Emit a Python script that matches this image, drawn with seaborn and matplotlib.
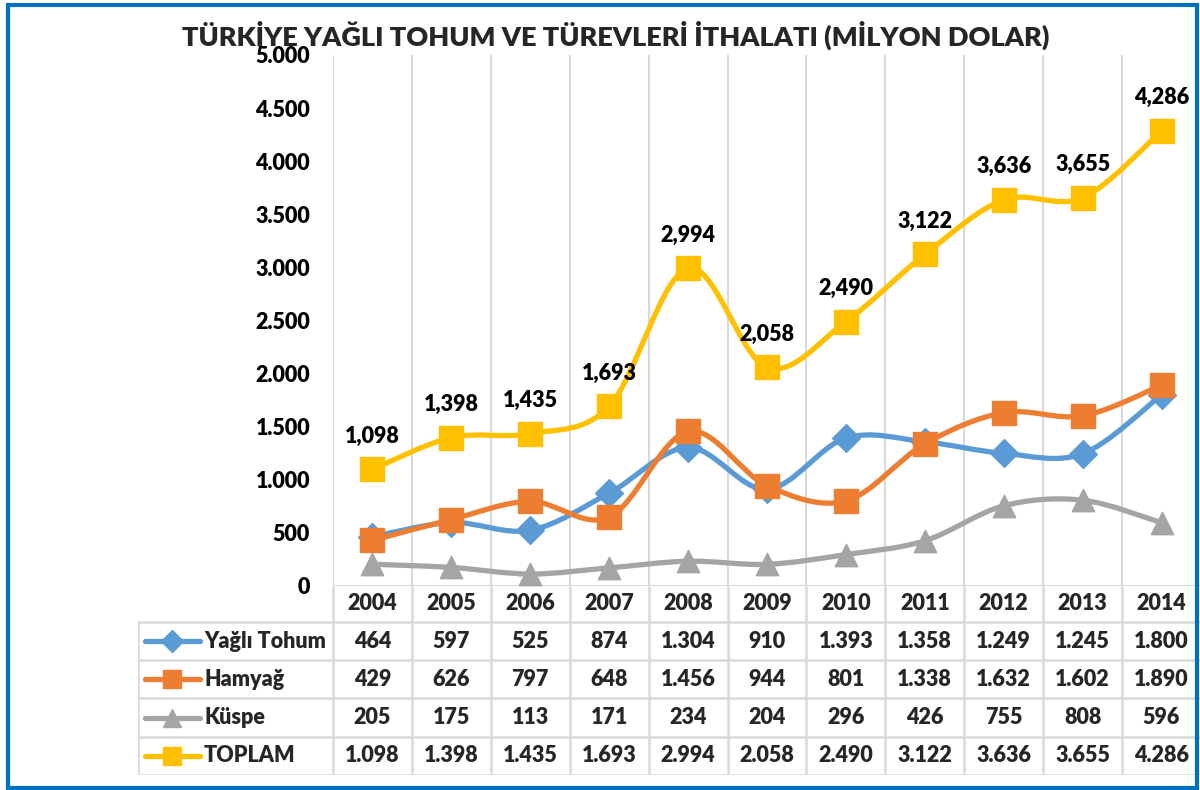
import numpy as np
import matplotlib
matplotlib.use("Agg")
import matplotlib.pyplot as plt
from matplotlib.path import Path
from matplotlib.patches import PathPatch, Rectangle
import seaborn as sns

sns.set_theme(style="white")
plt.rcParams["font.family"] = ["Lato", "DejaVu Sans"]
WEIGHT = "heavy"

# ── data ──
years = ["2004", "2005", "2006", "2007", "2008", "2009", "2010",
         "2011", "2012", "2013", "2014"]
yagli_tohum = [464, 597, 525, 874, 1304, 910, 1393, 1358, 1249, 1245, 1800]
hamyag = [429, 626, 797, 648, 1456, 944, 801, 1338, 1632, 1602, 1890]
kuspe = [205, 175, 113, 171, 234, 204, 296, 426, 755, 808, 596]
toplam = [1098, 1398, 1435, 1693, 2994, 2058, 2490, 3122, 3636, 3655, 4286]
series_names = ["Yağlı Tohum", "Hamyağ", "Küspe", "TOPLAM"]
y_ticks = [0, 500, 1000, 1500, 2000, 2500, 3000, 3500, 4000, 4500, 5000]
title = "TÜRKİYE YAĞLI TOHUM VE TÜREVLERİ İTHALATI (MİLYON DOLAR)"

COLORS = ["#5B9BD5", "#ED7D31", "#A5A5A5", "#FFC000"]
MARKERS = ["D", "s", "^", "s"]
MSIZE = [200, 300, 260, 300]
GRID = "#D9D9D9"
FS = 15.5

W, H = 1200, 790


def fx(px):
    return px / W


def fy(py):
    return (H - py) / H


def dot(v):
    return f"{v:,}".replace(",", ".")


def smooth_path(xs, ys):
    # Excel-like smoothed line: cubic Bezier with Catmull-Rom tangents
    pts = np.column_stack([xs, ys]).astype(float)
    n = len(pts)
    verts = [pts[0]]
    codes = [Path.MOVETO]
    for i in range(n - 1):
        p0 = pts[max(i - 1, 0)]
        p1 = pts[i]
        p2 = pts[i + 1]
        p3 = pts[min(i + 2, n - 1)]
        verts += [p1 + (p2 - p0) / 6, p2 - (p3 - p1) / 6, p2]
        codes += [Path.CURVE4] * 3
    return Path(verts, codes)


fig = plt.figure(figsize=(W / 100, H / 100), dpi=100)

# ── main plot ──
x0, x1, ytop, ybot = 333, 1201, 55, 586
ax = fig.add_axes([fx(x0), fy(ybot), fx(x1 - x0), (ybot - ytop) / H])
ax.set_xlim(-0.5, 10.5)
ax.set_ylim(0, 5000)
for s in ax.spines.values():
    s.set_visible(False)
ax.set_xticks([])
ax.set_yticks(y_ticks)
ax.set_yticklabels([dot(v) for v in y_ticks], fontsize=FS, fontweight=WEIGHT)
ax.tick_params(axis="y", length=0, pad=16.5, colors="black")
for b in np.arange(-0.5, 11, 1):
    ax.axvline(b, color=GRID, lw=1.5, zorder=0)
ax.axhline(0, color=GRID, lw=1.5, zorder=0)

xi = np.arange(len(years))
all_series = [yagli_tohum, hamyag, kuspe, toplam]
for k, (vals, c, m, ms) in enumerate(zip(all_series, COLORS, MARKERS, MSIZE)):
    patch = PathPatch(smooth_path(xi, vals), fill=False, edgecolor=c, lw=3.8,
                      capstyle="round", joinstyle="round", zorder=2 + 2 * k)
    ax.add_patch(patch)
    sns.scatterplot(x=xi, y=vals, marker=m, s=ms, color=c, edgecolor=c,
                    linewidth=1, ax=ax, zorder=3 + 2 * k, legend=False)

for i, v in enumerate(toplam):
    ax.annotate(f"{v:,}", xy=(i, v), xytext=(0, 33), textcoords="offset pixels",
                ha="center", va="center", fontsize=FS, fontweight=WEIGHT,
                color="black", zorder=20)

# ── data table ──
rows_y = [586, 622, 660, 698, 737, 775]
tab_left = 138
unit = (x1 - x0) / 11
tx0 = -0.5 - (x0 - tab_left) / unit
tab = fig.add_axes([fx(tab_left), fy(rows_y[-1]), fx(x1 - tab_left),
                    (rows_y[-1] - rows_y[0]) / H])
tab.set_xlim(tx0, 10.5)
tab.set_ylim(rows_y[-1], rows_y[0])
tab.axis("off")
for b in np.arange(-0.5, 11, 1):
    tab.plot([b, b], [rows_y[0], rows_y[-1]], color=GRID, lw=1.8,
             solid_capstyle="butt")
tab.plot([tx0, tx0], [rows_y[1], rows_y[-1]], color=GRID, lw=1.8)
for yy in rows_y[1:]:
    tab.plot([tx0, 10.5], [yy, yy], color=GRID, lw=1.8)

ymid = [(rows_y[j] + rows_y[j + 1]) / 2 for j in range(len(rows_y) - 1)]
for i, yr in enumerate(years):
    tab.text(i, ymid[0], yr, ha="center", va="center", fontsize=FS,
             fontweight=WEIGHT)
for r, (name, vals, c, m) in enumerate(zip(series_names, all_series,
                                             COLORS, MARKERS)):
    yy = ymid[r + 1]
    for i, v in enumerate(vals):
        tab.text(i, yy, dot(v), ha="center", va="center", fontsize=FS,
                 fontweight=WEIGHT)
    k0 = tx0 + (145 - tab_left) / unit
    k1 = tx0 + (200 - tab_left) / unit
    km = tx0 + (172 - tab_left) / unit
    tab.plot([k0, k1], [yy, yy], color=c, lw=3.8, solid_capstyle="round")
    tab.plot([km], [yy], marker=m, color=c, ms=11 if m == "D" else 12.5)
    tab.text(tx0 + (204 - tab_left) / unit, yy, name, ha="left", va="center",
             fontsize=FS, fontweight=WEIGHT)

# ── title and frame ──
fig.text(fx(616), fy(46), title, ha="center", va="baseline", fontsize=19.5,
         fontweight=WEIGHT)
fig.patches.append(Rectangle((fx(8), fy(788)), fx(1197 - 8), (788 - 5) / H,
                             transform=fig.transFigure, fill=False,
                             edgecolor="#0070C0", lw=3))

fig.savefig("out.png", dpi=100)
